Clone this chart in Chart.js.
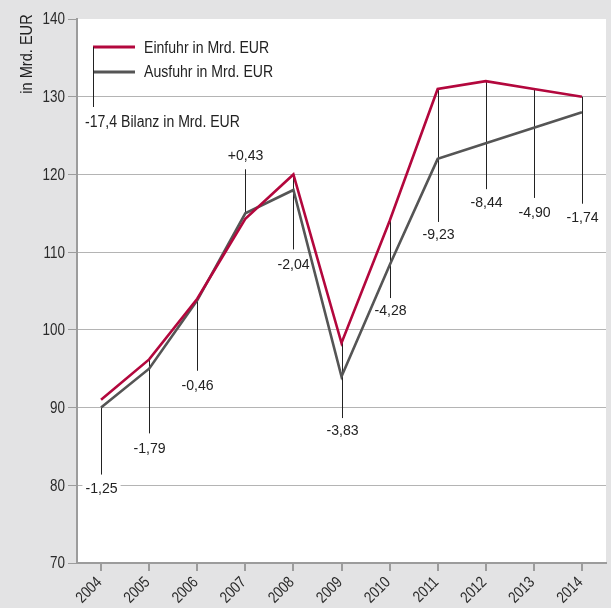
<!DOCTYPE html>
<html>
<head>
<meta charset="utf-8">
<script src="https://cdn.jsdelivr.net/npm/chart.js@4/dist/chart.umd.min.js"></script>
<style>
html,body{margin:0;padding:0;background:#e3e3e4;}
canvas{display:block;}
</style>
</head>
<body>
<canvas id="c" width="611" height="608"></canvas>
<script>
const years = ['2004','2005','2006','2007','2008','2009','2010','2011','2012','2013','2014'];
const einfuhr = [91.0, 96.2, 104.0, 114.3, 120.0, 98.3, 114.0, 131.0, 132.0, 131.0, 130.0];
const ausfuhr = [90.0, 95.0, 103.8, 115.0, 118.0, 94.0, 108.3, 122.0, 124.0, 126.0, 128.0];
const bilanz = ['-1,25','-1,79','-0,46','+0,43','-2,04','-3,83','-4,28','-9,23','-8,44','-4,90','-1,74'];
const yTickValues = [70, 80, 90, 100, 110, 120, 130, 140];
const seriesNames = ['Einfuhr in Mrd. EUR', 'Ausfuhr in Mrd. EUR'];
const bilanzTotal = '-17,4 Bilanz in Mrd. EUR';
const yTitle = 'in Mrd. EUR';

const FONT = "'Liberation Sans', Arial, sans-serif";
const RED = '#b3073d';
const GRAY = '#555555';
const TXT = '#222222';
const NUM_SX = 0.84;   // condensed look for axis numbers
const ANNO_SX = 0.94;  // balance labels
const TEXT_SX = 0.88;  // condensed look for words

// annotation styling: which series the leader line starts from, line length and label offset (px)
const annoStyle = [
  {from:1, len:67,  lab:80},
  {from:0, len:74,  lab:88},
  {from:0, len:72,  lab:86},
  {from:1, len:-44, lab:-58},
  {from:0, len:75,  lab:89},
  {from:0, len:75,  lab:87},
  {from:0, len:77,  lab:89},
  {from:0, len:133, lab:145},
  {from:0, len:108, lab:121},
  {from:0, len:109, lab:123},
  {from:0, len:107, lab:120}
];

function drawText(ctx, s, x, y, align, sx, rot) {
  ctx.save();
  ctx.translate(x, y);
  if (rot) ctx.rotate(rot);
  ctx.scale(sx, 1);
  ctx.textAlign = align;
  ctx.fillText(s, 0, 0);
  ctx.restore();
}

const bgPlugin = {
  id: 'bg',
  beforeDraw(chart) {
    const {ctx, chartArea: a} = chart;
    ctx.save();
    ctx.fillStyle = '#e3e3e4';
    ctx.fillRect(0, 0, chart.width, chart.height);
    ctx.fillStyle = '#ffffff';
    ctx.fillRect(a.left, a.top, a.right - a.left, a.bottom - a.top);
    ctx.restore();
  },
  beforeDatasetsDraw(chart) {
    const {ctx, chartArea: a} = chart;
    const x = chart.scales.x, y = chart.scales.y;
    ctx.save();
    ctx.font = '16px ' + FONT;
    ctx.textBaseline = 'middle';

    // axis tick labels
    ctx.fillStyle = '#2a2a2a';
    yTickValues.forEach(v => {
      drawText(ctx, String(v), 65, y.getPixelForValue(v) + 1, 'right', NUM_SX);
    });
    years.forEach((yr, i) => {
      const px = x.getPixelForValue(i);
      drawText(ctx, yr, px - 1.5, a.bottom + 17, 'right', 0.82, -Math.PI / 4);
    });

    // leader lines + balance labels
    ctx.font = '15px ' + FONT;
    ctx.strokeStyle = TXT;
    ctx.lineWidth = 1;
    years.forEach((yr, i) => {
      const st = annoStyle[i];
      const v = st.from === 0 ? einfuhr[i] : ausfuhr[i];
      const px = Math.round(x.getPixelForValue(i)) + 0.5;
      const py = y.getPixelForValue(v);
      ctx.beginPath();
      ctx.moveTo(px, py);
      ctx.lineTo(px, py + st.len);
      ctx.stroke();
      const ly = py + st.lab;
      const w = ctx.measureText(bilanz[i]).width * ANNO_SX;
      ctx.fillStyle = '#ffffff';
      ctx.fillRect(px - w / 2 - 3, ly - 8, w + 6, 16);
      ctx.fillStyle = TXT;
      drawText(ctx, bilanz[i], px, ly + 1, 'center', ANNO_SX);
    });

    // legend
    ctx.font = '16px ' + FONT;
    const lx = a.left + 16;
    ctx.lineWidth = 3;
    ctx.strokeStyle = RED;
    ctx.beginPath(); ctx.moveTo(lx, a.top + 28); ctx.lineTo(lx + 42, a.top + 28); ctx.stroke();
    ctx.strokeStyle = GRAY;
    ctx.beginPath(); ctx.moveTo(lx, a.top + 53); ctx.lineTo(lx + 42, a.top + 53); ctx.stroke();
    ctx.lineWidth = 1;
    ctx.strokeStyle = TXT;
    ctx.beginPath(); ctx.moveTo(lx + 0.5, a.top + 28); ctx.lineTo(lx + 0.5, a.top + 88); ctx.stroke();
    ctx.fillStyle = TXT;
    drawText(ctx, seriesNames[0], lx + 51, a.top + 30, 'left', TEXT_SX);
    drawText(ctx, seriesNames[1], lx + 51, a.top + 54, 'left', TEXT_SX);
    drawText(ctx, bilanzTotal, lx - 8, a.top + 104, 'left', TEXT_SX);

    // y title
    drawText(ctx, yTitle, 28, 54, 'center', 0.91, -Math.PI / 2);
    ctx.restore();
  }
};

new Chart(document.getElementById('c'), {
  type: 'line',
  data: {
    labels: years,
    datasets: [
      {label: seriesNames[0], data: einfuhr, borderColor: RED, borderWidth: 2.6, pointRadius: 0, tension: 0},
      {label: seriesNames[1], data: ausfuhr, borderColor: GRAY, borderWidth: 2.6, pointRadius: 0, tension: 0}
    ]
  },
  options: {
    responsive: false,
    animation: false,
    devicePixelRatio: 1,
    layout: {padding: {top: 19, right: 5, left: 0, bottom: 0}},
    plugins: {legend: {display: false}, tooltip: {enabled: false}},
    scales: {
      x: {
        offset: true,
        grid: {drawOnChartArea: false, drawTicks: true, tickLength: 8, tickColor: '#9c9c9c', lineWidth: 2, offset: false},
        border: {color: '#9c9c9c', width: 2},
        ticks: {display: false},
        afterFit: s => { s.height = 45; }
      },
      y: {
        min: 70, max: 140,
        afterBuildTicks: s => { s.ticks = yTickValues.map(v => ({value: v})); },
        grid: {
          color: c => (c.tick && c.tick.value === 140) ? 'rgba(0,0,0,0)' : '#b4b4b4',
          lineWidth: 1, tickLength: 9, tickColor: '#9c9c9c'
        },
        border: {color: '#9c9c9c', width: 2},
        ticks: {display: false},
        afterFit: s => { s.width = 77; }
      }
    }
  },
  plugins: [bgPlugin]
});
</script>
</body>
</html>
